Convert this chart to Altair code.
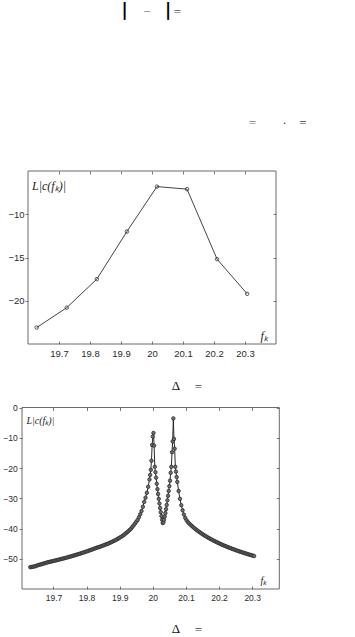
import altair as alt
import pandas as pd

# ---------------- data: upper panel ----------------
f1 = [19.628, 19.725, 19.822, 19.919, 20.016, 20.113, 20.210, 20.307]
v1 = [-23.1, -20.8, -17.5, -12.0, -6.8, -7.1, -15.2, -19.2]
x1_ticks = [19.7, 19.8, 19.9, 20.0, 20.1, 20.2, 20.3]
y1_ticks = [-10, -15, -20]
x1_domain = [19.6, 20.4]
y1_domain = [-25, -5]

# ---------------- data: lower panel ----------------
f2_left = [19.630, 19.634, 19.638, 19.642, 19.646, 19.650, 19.654, 19.658, 19.662, 19.666,
           19.670, 19.674, 19.678, 19.682, 19.686, 19.690, 19.694, 19.698, 19.702, 19.706,
           19.710, 19.714, 19.718, 19.722, 19.726, 19.730, 19.734, 19.738, 19.742, 19.746,
           19.750, 19.754, 19.758, 19.762, 19.766, 19.770, 19.774, 19.778, 19.782, 19.786,
           19.790, 19.794, 19.798, 19.802, 19.806, 19.810, 19.814, 19.818, 19.822, 19.826,
           19.830, 19.834, 19.838, 19.842, 19.846, 19.850, 19.854, 19.858, 19.862, 19.866,
           19.870, 19.874, 19.878, 19.882, 19.886, 19.890, 19.894, 19.898, 19.902, 19.906,
           19.910, 19.914, 19.918, 19.922, 19.926, 19.930, 19.934, 19.938, 19.942, 19.946,
           19.950, 19.954, 19.958, 19.962, 19.966, 19.970, 19.974, 19.978, 19.982, 19.986]
v2_left = [-52.80, -52.71, -52.63, -52.54, -52.45, -52.26, -52.10, -51.97, -51.88, -51.73,
           -51.59, -51.49, -51.34, -51.19, -51.09, -50.99, -50.89, -50.78, -50.68, -50.57,
           -50.46, -50.35, -50.24, -50.13, -50.02, -49.90, -49.79, -49.67, -49.55, -49.43,
           -49.30, -49.18, -49.05, -48.92, -48.79, -48.66, -48.52, -48.39, -48.25, -48.11,
           -47.96, -47.82, -47.67, -47.52, -47.36, -47.21, -47.05, -46.89, -46.72, -46.55,
           -46.38, -46.25, -46.13, -45.94, -45.81, -45.62, -45.47, -45.27, -45.12, -44.96,
           -44.74, -44.57, -44.35, -44.11, -43.93, -43.68, -43.43, -43.17, -42.90, -42.63,
           -42.34, -42.00, -41.65, -41.30, -40.90, -40.50, -40.10, -39.50, -39.00, -38.40,
           -37.80, -37.20, -36.30, -35.30, -34.20, -32.80, -31.20, -29.80, -28.20, -26.20]

f2_peaks = [19.990, 19.992, 19.994, 19.996, 19.998, 20.000, 20.002, 20.004, 20.006, 20.008,
            20.010, 20.012, 20.014, 20.016, 20.018, 20.020, 20.022, 20.024, 20.026, 20.028,
            20.030, 20.032, 20.034, 20.036, 20.038, 20.040, 20.042, 20.044, 20.046, 20.048,
            20.050, 20.052, 20.054, 20.056, 20.058, 20.060, 20.062, 20.064, 20.066, 20.068,
            20.070, 20.072, 20.074]
v2_peaks = [-23.8, -22.3, -20.6, -17.6, -12.4, -9.6, -8.4, -12.6, -19.6, -21.4,
            -23.2, -25.2, -27.0, -28.6, -30.2, -31.7, -33.2, -34.6, -35.9, -37.1,
            -38.2, -38.0, -37.1, -36.0, -34.9, -33.6, -32.2, -30.7, -29.2, -27.6,
            -26.0, -24.2, -21.6, -19.6, -14.8, -11.2, -3.6, -10.4, -13.6, -19.6,
            -21.2, -23.0, -24.6]

f2_right = [20.078, 20.082, 20.086, 20.090, 20.094, 20.098, 20.102, 20.106, 20.110, 20.114,
            20.118, 20.122, 20.126, 20.130, 20.134, 20.138, 20.142, 20.146, 20.150, 20.154,
            20.158, 20.162, 20.166, 20.170, 20.174, 20.178, 20.182, 20.186, 20.190, 20.194,
            20.198, 20.202, 20.206, 20.210, 20.214, 20.218, 20.222, 20.226, 20.230, 20.234,
            20.238, 20.242, 20.246, 20.250, 20.254, 20.258, 20.262, 20.266, 20.270, 20.274,
            20.278, 20.282, 20.286, 20.290, 20.294, 20.298, 20.302, 20.306]
v2_right = [-27.6, -30.2, -32.3, -34.0, -35.4, -36.5, -37.3, -37.9, -38.34, -38.77,
            -39.17, -39.56, -39.93, -40.28, -40.62, -40.95, -41.26, -41.57, -41.86, -42.15,
            -42.42, -42.69, -42.95, -43.20, -43.45, -43.68, -43.92, -44.14, -44.36, -44.58,
            -44.79, -44.99, -45.19, -45.39, -45.58, -45.76, -45.95, -46.12, -46.30, -46.47,
            -46.64, -46.81, -46.97, -47.13, -47.28, -47.44, -47.59, -47.74, -47.88, -48.03,
            -48.17, -48.31, -48.44, -48.58, -48.71, -48.84, -48.97, -49.10]

x2_ticks = [19.7, 19.8, 19.9, 20.0, 20.1, 20.2, 20.3]
y2_ticks = [0, -10, -20, -30, -40, -50]
x2_domain = [19.605, 20.382]
y2_domain = [-60, 0]

# ---------------- tables ----------------
df1 = pd.DataFrame({"f": f1, "v": v1})
df2 = pd.DataFrame({"f": f2_left + f2_peaks + f2_right,
                    "v": v2_left + v2_peaks + v2_right})
frame1 = pd.DataFrame({"x0": [x1_domain[0]], "x1": [x1_domain[1]],
                       "y0": [y1_domain[0]], "y1": [y1_domain[1]]})
frame2 = pd.DataFrame({"x0": [x2_domain[0]], "x1": [x2_domain[1]],
                       "y0": [y2_domain[0]], "y1": [y2_domain[1]]})

W, H = 355, 637
SANS = "Liberation Sans"
SERIF = "Liberation Serif"
TICK = "#777777"
LAB = "#2a2a2a"


def panel(df, frame, xdom, ydom, xr, yr, xt, yt, lab_size, title_size,
          left_off, bottom_off, top_off, right_off, lpad, bpad,
          ytitle_xy, xtitle_xy, line_color, pt_size, pt_fill, pt_filled):
    xs = alt.Scale(domain=xdom, range=xr, nice=False, zero=False)
    ys = alt.Scale(domain=ydom, range=yr, nice=False, zero=False)
    common = dict(domain=False, grid=False, tickSize=3, tickColor=TICK, tickWidth=1,
                  labelFlush=False, labelOverlap=False)
    ax_bottom = alt.Axis(orient="bottom", offset=bottom_off, values=xt, format="~g",
                         labelPadding=bpad, labelFont=SANS, labelFontSize=lab_size,
                         labelColor=LAB, title="fₖ", titleX=xtitle_xy[0],
                         titleY=xtitle_xy[1], titleAlign="left", titleBaseline="middle",
                         titleFont=SERIF, titleFontStyle="italic", titleFontWeight="normal",
                         titleFontSize=title_size, titleColor="#222222", **common)
    ax_left = alt.Axis(orient="left", offset=left_off, values=yt, format="d",
                       labelPadding=lpad, labelFont=SANS, labelFontSize=lab_size,
                       labelColor=LAB, title="L|c(fₖ)|", titleAngle=0,
                       titleX=ytitle_xy[0], titleY=ytitle_xy[1], titleAlign="left",
                       titleBaseline="middle", titleFont=SERIF, titleFontStyle="italic",
                       titleFontWeight="normal", titleFontSize=title_size,
                       titleColor="#222222", **common)
    ax_top = alt.Axis(orient="top", offset=top_off, values=xt, labels=False,
                      title=None, **common)
    ax_right = alt.Axis(orient="right", offset=right_off, values=yt, labels=False,
                        title=None, **common)

    box = alt.Chart(frame).mark_rect(fillOpacity=0, stroke="#6a6a6a", strokeWidth=1).encode(
        x=alt.X("x0:Q", scale=xs, axis=None), x2="x1",
        y=alt.Y("y0:Q", scale=ys, axis=None), y2="y1")
    line = alt.Chart(df).mark_line(color=line_color, strokeWidth=1).encode(
        x=alt.X("f:Q", scale=xs, axis=ax_bottom),
        y=alt.Y("v:Q", scale=ys, axis=ax_left))
    if pt_filled:
        pmark = alt.Chart(df).mark_point(shape="circle", size=pt_size, filled=True,
                                         fill=pt_fill, stroke="#2a2a2a", strokeWidth=0.8,
                                         opacity=1)
    else:
        pmark = alt.Chart(df).mark_point(shape="circle", size=pt_size, filled=False,
                                         color="#333333", strokeWidth=0.8, opacity=1)
    pts = pmark.encode(
        x=alt.X("f:Q", scale=xs, axis=ax_top),
        y=alt.Y("v:Q", scale=ys, axis=ax_right))
    return alt.layer(box, line, pts).resolve_axis(x="independent", y="independent")


top = panel(df1, frame1, x1_domain, y1_domain, [28, 276], [344, 171], x1_ticks, y1_ticks,
            lab_size=9.5, title_size=12,
            left_off=-28, bottom_off=341 - H, top_off=-174, right_off=273 - W,
            lpad=1, bpad=4.5, ytitle_xy=(3.5, 185), xtitle_xy=(260, -6),
            line_color="#444444", pt_size=12, pt_fill="#ffffff", pt_filled=False)

bottom = panel(df2, frame2, x2_domain, y2_domain, [22, 279.3], [589, 407.5], x2_ticks, y2_ticks,
               lab_size=8.5, title_size=10,
               left_off=-22, bottom_off=586 - H, top_off=-410.5, right_off=276.3 - W,
               lpad=1.7, bpad=4, ytitle_xy=(4, 420), xtitle_xy=(260, -6),
               line_color="#2a2a2a", pt_size=12, pt_fill="#707070", pt_filled=True)


def note(s, x, y, size, color, font=SERIF, weight="normal"):
    return alt.Chart(alt.Data(values=[{}])).mark_text(
        text=s, fontSize=size, color=color, font=font, fontWeight=weight,
        align="center", baseline="middle").encode(x=alt.value(x), y=alt.value(y))


notes = [
    note("|", 124.7, 11, 17, "#000000", font="DejaVu Sans", weight="bold"),
    note("−", 147, 11.5, 13, "#777777"),
    note("|", 168, 11, 17, "#000000", font="DejaVu Sans", weight="bold"),
    note("=", 177.5, 11.5, 13, "#555555"),
    note("=", 252.5, 123, 13, "#777777"),
    note("·", 284.5, 123, 12, "#333333"),
    note("=", 303, 123, 13, "#444444"),
    note("Δ", 176, 386, 13, "#111111"),
    note("=", 198.5, 386.5, 13, "#444444"),
    note("Δ", 176, 629, 13, "#111111"),
    note("=", 198.5, 629.5, 13, "#444444"),
]

chart = alt.layer(top, bottom, *notes).resolve_scale(
    x="independent", y="independent").resolve_axis(
    x="independent", y="independent").properties(
    width=W, height=H, padding=0,
    autosize=alt.AutoSizeParams(type="none"),
    background="white").configure_view(stroke=None)

chart.save("out.html", embed_options={"renderer": "svg", "actions": False})
